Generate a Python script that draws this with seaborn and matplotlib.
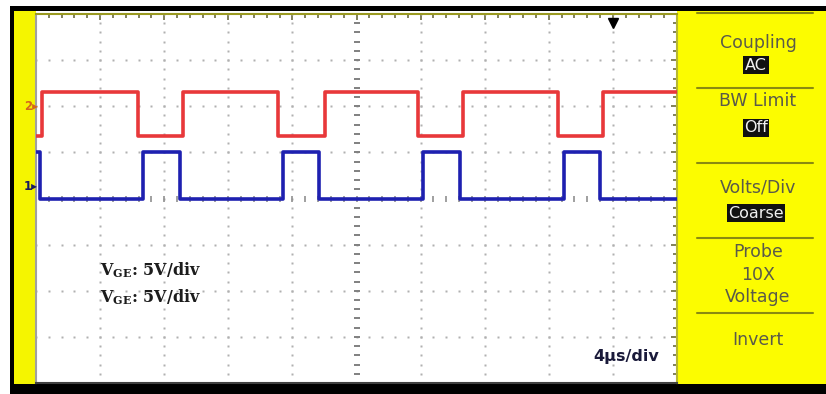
"""Oscilloscope capture: two gate-drive channels, 5 V/div, 4 us/div."""

import matplotlib
matplotlib.use("Agg")

import matplotlib.pyplot as plt
import numpy as np
import pandas as pd
import seaborn as sns
from matplotlib.patches import Rectangle

W, H = 826, 394

# time in divisions (4 us/div), level in divisions (5 V/div), centre = 0
ch2_t = [0.0, 0.10, 1.59, 2.29, 3.78, 4.51, 5.96, 6.66, 8.14, 8.85, 10.0]
ch2_v = [1.35, 2.30, 1.35, 2.30, 1.35, 2.30, 1.35, 2.30, 1.35, 2.30, 2.30]
ch1_t = [0.0, 0.06, 1.67, 2.25, 3.85, 4.41, 6.04, 6.61, 8.24, 8.80, 10.0]
ch1_v = [1.0, 0.0, 1.0, 0.0, 1.0, 0.0, 1.0, 0.0, 1.0, 0.0, 0.0]

ch_markers = ["2", "1"]
ch_marker_levels = [2.0, 0.27]
ch_marker_colors = ["#d4661c", "#1a1a60"]

scale_labels = [r"V$_\mathregular{GE}$: 5V/div", r"V$_\mathregular{GE}$: 5V/div"]
time_label = "4\u00b5s/div"
trigger_pos = (9.0, 3.8)

# right-hand soft-key menu: (text, y pixel, boxed)
menu_items = [
    ("Coupling", 43, False), ("AC", 65, True),
    ("BW Limit", 101, False), ("Off", 128, True),
    ("Volts/Div", 187, False), ("Coarse", 213, True),
    ("Probe", 252, False), ("10X", 275, False), ("Voltage", 297, False),
    ("Invert", 340, False),
]
menu_rules = [13, 88, 163, 238, 313]


def fx(x):
    return x / W


def fy(y):
    return 1 - y / H


def rect(fig, x0, y0, x1, y1, color):
    fig.add_artist(Rectangle((fx(x0), fy(y1)), fx(x1) - fx(x0), fy(y0) - fy(y1),
                             transform=fig.transFigure, color=color, lw=0, zorder=-5))


sns.set_style("white")
fig = plt.figure(figsize=(W / 100, H / 100), dpi=100)

# bezel: black frame, yellow strip on the left, yellow menu on the right
rect(fig, 10, 6, W, 11, "black")
rect(fig, 10, 6, 14, H, "black")
rect(fig, 10, 384, W, H, "black")
rect(fig, 14, 11, 36, 384, "#f5f500")
rect(fig, 677, 11, W, 384, "#fcfc00")

ax = fig.add_axes([fx(36), fy(383), fx(677) - fx(36), fy(14) - fy(383)])
ax.set_xlim(0, 10)
ax.set_ylim(-4, 4)
ax.set_facecolor("white")

# graticule dots
fine = np.arange(0, 10.01, 0.2)
fine_y = np.arange(-4, 4.01, 0.2)
for gy in range(-3, 4):
    if gy == 0:
        continue
    ax.plot(fine, np.full_like(fine, gy), ls="none", marker="s", ms=1.6,
            mfc="#b0b0b0", mec="none", zorder=1)
for gx in range(1, 10):
    if gx == 5:
        continue
    ax.plot(np.full_like(fine_y, gx), fine_y, ls="none", marker="s", ms=1.6,
            mfc="#b0b0b0", mec="none", zorder=1)
ax.plot(fine, np.zeros_like(fine), ls="none", marker="|", ms=4, mew=1.2,
        color="#909090", zorder=1)
ax.plot(np.full_like(fine_y, 5), fine_y, ls="none", marker="_", ms=5, mew=1.4,
        color="#808080", zorder=1)

# traces
df2 = pd.DataFrame({"t": ch2_t, "v": ch2_v})
df1 = pd.DataFrame({"t": ch1_t, "v": ch1_v})
sns.lineplot(data=df2, x="t", y="v", ax=ax, estimator=None, sort=False,
             drawstyle="steps-post", color="#e8383a", lw=2.6, legend=False, zorder=3)
sns.lineplot(data=df1, x="t", y="v", ax=ax, estimator=None, sort=False,
             drawstyle="steps-post", color="#1e20b0", lw=2.6, legend=False, zorder=3)

ax.plot(*trigger_pos, marker="v", ms=6.5, color="black", zorder=4)

ax.set_xticks(range(0, 11))
ax.set_xticks(fine, minor=True)
ax.set_yticks(range(-4, 5))
ax.set_yticks(fine_y, minor=True)
ax.tick_params(which="both", direction="in", top=True, right=True,
               labelbottom=False, labelleft=False, color="#6c6c40")
ax.tick_params(which="major", length=4, width=1.2)
ax.tick_params(which="minor", length=3, width=1.2)
ax.set_xlabel("")
ax.set_ylabel("")
for side, col in [("top", "#9a9a20"), ("right", "#b8b830"),
                  ("left", "#a0a0a0"), ("bottom", "#404040")]:
    ax.spines[side].set_color(col)
    ax.spines[side].set_linewidth(1.5)

for y, txt in zip([270, 297], scale_labels):
    fig.text(fx(100), fy(y), txt, ha="left", va="center", fontsize=11.5,
             family="DejaVu Serif", weight="bold", color="#1c1c1c")
fig.text(fx(626), fy(357), time_label, ha="center", va="center", fontsize=11.5,
         family="DejaVu Sans", weight="bold", color="#1a1a3a")

# channel ground markers on the left strip
for lab, lev, col in zip(ch_markers, ch_marker_levels, ch_marker_colors):
    ypix = 14 + (4 - lev) * (369 / 8)
    fig.text(fx(24), fy(ypix), lab + "\u25b8", ha="left", va="center",
             fontsize=8.5, color=col, weight="bold")

# menu
cx = 758
for y in menu_rules:
    fig.add_artist(plt.Line2D([fx(697), fx(813)], [fy(y), fy(y)],
                              transform=fig.transFigure, color="#8a8a10", lw=1.5))
for txt, y, boxed in menu_items:
    if boxed:
        fig.text(fx(cx - 2), fy(y), txt, ha="center", va="center", fontsize=11.5,
                 family="DejaVu Sans", color="#f0f0f0",
                 bbox=dict(boxstyle="square,pad=0.1", fc="#111111", ec="none"))
    else:
        fig.text(fx(cx), fy(y), txt, ha="center", va="center", fontsize=12.5,
                 family="DejaVu Sans", color="#5a5a4a")

fig.savefig("out.png", dpi=100)
